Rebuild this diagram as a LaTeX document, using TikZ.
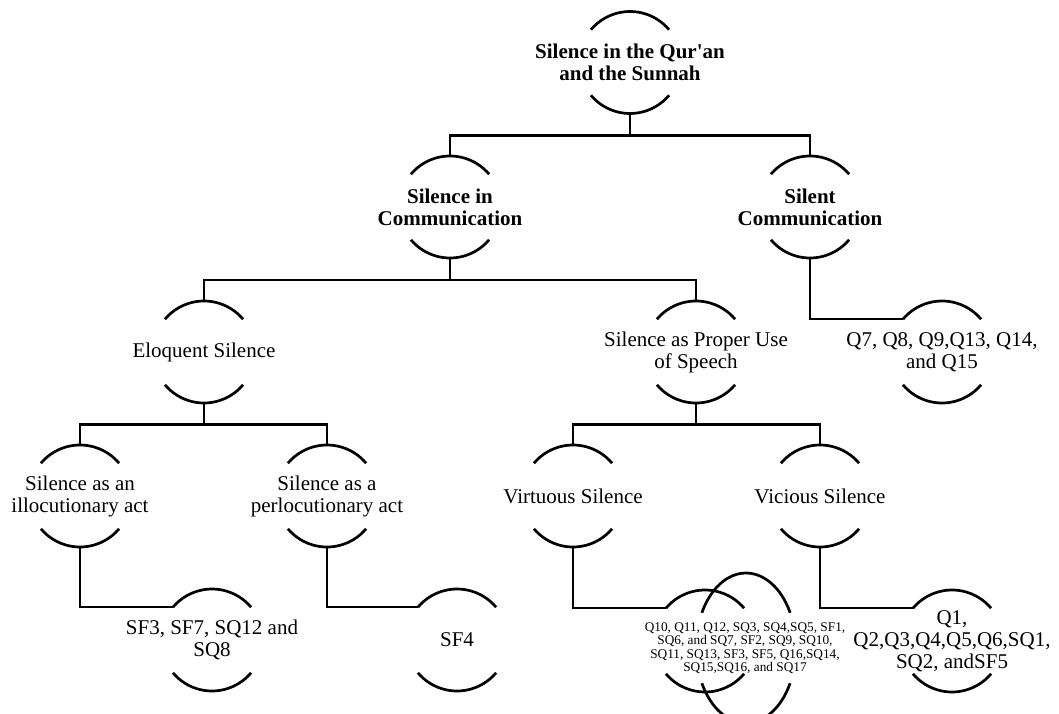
\documentclass[tikz,border=0pt]{standalone}
\usepackage{fontspec}
\setmainfont{Liberation Serif}[Ligatures=TeXOff]
\tikzset{
  x=1pt, y=-1pt,
  txt/.style={inner sep=0pt, align=center, font=\fontsize{21}{22}\selectfont},
  btxt/.style={txt, font=\fontsize{21}{22}\selectfont\bfseries},
  stxt/.style={inner sep=0pt, align=center, font=\fontsize{13.3}{13.4}\selectfont},
  arcline/.style={line width=2.7pt},
  conn/.style={line width=2.3pt}
}
\newcommand{\mynode}[5]{%
  \node[#5] (#1) at (#2,#3) {#4};
  \draw[arcline] ([shift={(40:51pt)}]#2pt,-#3pt) arc[start angle=40,end angle=140,radius=51pt];
  \draw[arcline] ([shift={(220:51pt)}]#2pt,-#3pt) arc[start angle=220,end angle=320,radius=51pt];
  \coordinate (#1-t) at ([shift={(90:51pt)}]#2pt,-#3pt);
  \coordinate (#1-b) at ([shift={(270:51pt)}]#2pt,-#3pt);
  \coordinate (#1-w) at ([shift={(140:51pt)}]#2pt,-#3pt);
}
\begin{document}
\begin{tikzpicture}
\useasboundingbox (0,0) rectangle (1059,714);
\fill[white] (0,0) rectangle (1059,714);

% level 1
\mynode{root}{630}{62.5}{Silence in the Qur'an\\and the Sunnah}{btxt}
% level 2
\mynode{sic}{450}{207}{Silence in\\Communication}{btxt}
\mynode{sc}{810}{207}{Silent\\Communication}{btxt}
% level 3
\mynode{elo}{204}{352}{Eloquent Silence}{txt}
\mynode{prop}{696}{352}{Silence as Proper Use\\of Speech}{txt}
\mynode{qs}{942}{352}{Q7, Q8, Q9,Q13, Q14,\\and Q15}{txt}
% level 4
\mynode{ill}{80}{496}{Silence as an\\illocutionary act}{txt}
\mynode{per}{327}{496}{Silence as a\\perlocutionary act}{txt}
\mynode{vir}{573}{496}{Virtuous Silence}{txt}
\mynode{vic}{820}{496}{Vicious Silence}{txt}
% level 5
\mynode{sfa}{212}{640}{SF3, SF7, SQ12 and\\SQ8}{txt}
\mynode{sfb}{457}{640}{SF4}{txt}
\mynode{vil}{952}{641}{Q1,\\Q2,Q3,Q4,Q5,Q6,SQ1,\\SQ2, andSF5}{txt}
% virtuous leaf: circle + tall ellipse
\mynode{vrl}{705}{641}{}{txt}
\draw[arcline] ([shift={(28:50pt and 75pt)}]746pt,-648pt) arc[start angle=28,end angle=152,x radius=50pt,y radius=75pt];
\draw[arcline] ([shift={(208:50pt and 75pt)}]746pt,-648pt) arc[start angle=208,end angle=332,x radius=50pt,y radius=75pt];
\node[stxt] (vrt) at (745,648) {Q10, Q11, Q12, SQ3, SQ4,SQ5, SF1,\\SQ6, and SQ7, SF2, SQ9, SQ10,\\SQ11, SQ13, SF3, SF5, Q16,SQ14,\\SQ15,SQ16, and SQ17};

% connectors
\draw[conn] (root-b) -- ++(0,22) coordinate (j1) -| (sic-t);
\draw[conn] (j1) -| (sc-t);
\draw[conn] (sic-b) -- ++(0,22) coordinate (j2) -| (elo-t);
\draw[conn] (j2) -| (prop-t);
\draw[conn] (elo-b) -- ++(0,21.5) coordinate (j3) -| (ill-t);
\draw[conn] (j3) -| (per-t);
\draw[conn] (prop-b) -- ++(0,21.5) coordinate (j4) -| (vir-t);
\draw[conn] (j4) -| (vic-t);
\draw[conn] (sc-b) |- (qs-w);
\draw[conn] (ill-b) |- (sfa-w);
\draw[conn] (per-b) |- (sfb-w);
\draw[conn] (vir-b) |- (vrl-w);
\draw[conn] (vic-b) |- (vil-w);
\end{tikzpicture}
\end{document}
